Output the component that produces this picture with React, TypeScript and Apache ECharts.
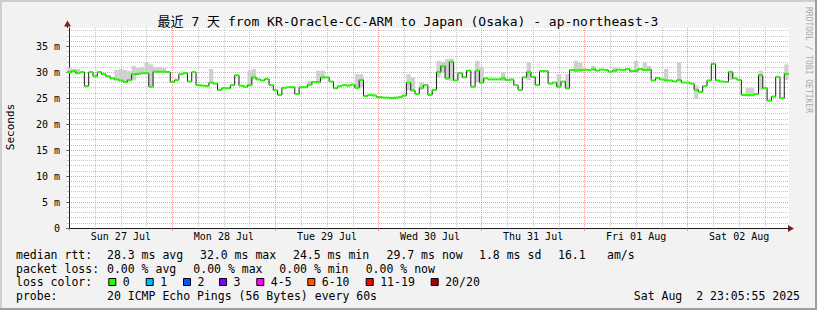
import React, { useEffect, useRef } from 'react';
import * as echarts from 'echarts';

const chartTitle = '最近 7 天 from KR-Oracle-CC-ARM to Japan (Osaka) - ap-northeast-3';
const yAxisName = 'Seconds';
const sideText = 'RRDTOOL / TOBI OETIKER';
const dayLabels = ['Sun 27 Jul', 'Mon 28 Jul', 'Tue 29 Jul', 'Wed 30 Jul', 'Thu 31 Jul', 'Fri 01 Aug', 'Sat 02 Aug'];
const yTickValues = [0, 5, 10, 15, 20, 25, 30, 35];

// hourly median rtt (ms), one array per day, hour 0 = 00:00
const rttJul27 = [30.0, 30.2, 29.8, 30.0, 27.3, 30.0, 29.2, 30.0, 29.6, 29.2, 28.8, 28.6, 28.4, 28.1, 28.5, 29.6, 29.7, 29.8, 29.8, 27.2, 30.1, 30.1, 30.1, 30.0];
const rttJul28 = [28.1, 28.5, 29.6, 29.8, 28.2, 30.0, 27.5, 27.4, 27.3, 28.0, 27.8, 26.6, 26.9, 26.9, 27.5, 29.4, 27.4, 27.2, 27.5, 29.0, 28.6, 28.4, 28.7, 27.5];
const rttJul29 = [26.5, 25.6, 27.0, 27.1, 27.1, 25.8, 27.1, 27.1, 27.6, 28.1, 28.1, 29.0, 29.0, 28.2, 26.9, 27.3, 27.5, 27.4, 27.6, 27.0, 28.5, 25.4, 25.6, 25.5];
const rttJul30 = [25.2, 25.1, 25.1, 25.0, 25.1, 25.2, 25.5, 28.0, 26.5, 25.8, 27.0, 27.5, 25.6, 26.6, 30.0, 31.2, 28.8, 32.0, 28.4, 29.8, 29.0, 30.3, 27.2, 30.3];
const rttJul31 = [28.0, 28.8, 28.6, 28.6, 28.6, 28.8, 28.5, 28.6, 27.5, 26.6, 29.0, 30.0, 29.1, 27.5, 30.2, 30.2, 27.8, 28.0, 27.2, 28.2, 26.9, 30.4, 30.3, 30.4];
const rttAug01 = [30.5, 30.4, 30.6, 30.3, 30.5, 30.4, 30.1, 30.3, 30.5, 30.4, 30.6, 30.2, 30.3, 30.6, 30.4, 30.5, 28.4, 28.9, 28.6, 28.4, 28.4, 28.2, 28.5, 28.0];
const rttAug02 = [28.0, 27.8, 26.6, 26.2, 27.3, 28.4, 31.6, 28.4, 28.2, 28.1, 30.0, 28.8, 28.5, 25.6, 25.6, 25.6, 25.8, 29.4, 26.9, 24.5, 25.3, 29.1, 25.0, 29.7];

// smoke bands: [hour index, low ms, high ms]
const smokeBands = [
  [0, 29.8, 30.9], [1, 29.8, 30.6], [2, 29.6, 30.6], [11, 28.4, 30.4], [12, 28.2, 30.6], [13, 28.0, 30.4],
  [14, 28.2, 30.2], [15, 28.4, 31.2], [16, 29.5, 30.8], [17, 29.6, 31.0], [18, 29.6, 31.9], [19, 27.2, 31.5],
  [20, 29.9, 30.9], [21, 29.9, 31.0], [22, 29.9, 30.8], [33, 27.8, 30.6], [42, 27.2, 30.3], [43, 28.6, 30.6],
  [56, 27.4, 28.3], [58, 27.8, 30.3], [59, 28.6, 30.3], [67, 26.8, 29.6], [68, 27.0, 29.6], [79, 26.5, 29.6],
  [80, 26.2, 29.0], [82, 26.6, 28.0], [86, 29.0, 32.2], [87, 30.0, 32.0], [88, 28.5, 32.5], [89, 28.3, 32.6],
  [95, 28.0, 32.2], [96, 27.8, 31.0], [101, 28.3, 30.0], [107, 28.5, 31.9], [114, 27.0, 29.6], [116, 26.8, 29.6],
  [118, 30.0, 32.2], [119, 30.0, 31.8], [122, 30.2, 31.2], [127, 30.0, 30.9], [132, 30.0, 32.2], [134, 30.2, 31.9],
  [135, 30.2, 31.2], [139, 28.2, 30.6], [142, 28.2, 31.9], [146, 24.8, 27.4], [154, 28.5, 30.3], [158, 25.3, 27.0],
  [159, 25.3, 27.0], [161, 26.5, 30.3], [167, 28.5, 31.5],
];

const lossColors = ['#26ff00', '#00b8ff', '#0059ff', '#7e00ff', '#ff00ff', '#ff5500', '#ff0000', '#a10000'];
const lossLabels = ['0', '1', '2', '3', '4-5', '6-10', '11-19', '20/20'];
const rttStats = ['28.3 ms avg', '32.0 ms max', '24.5 ms min', '29.7 ms now', '1.8 ms sd', '16.1', 'am/s'];
const lossStats = ['0.00 % avg', '0.00 % max', '0.00 % min', '0.00 % now'];
const rowTitles = ['median rtt:', 'packet loss:', 'loss color:', 'probe:'];
const probeText = '20 ICMP Echo Pings (56 Bytes) every 60s';
const stampText = 'Sat Aug  2 23:05:55 2025';

// layout
const FONT = '"DejaVu Sans Mono", "Noto Sans CJK SC", monospace';
const X_MIN = -0.55;
const X_MAX = 167.6;
const Y_MAX = 38.5;
const rowY = [254.5, 268.5, 282, 296];
const rttStatX = [107, 200, 293, 386.5, 479, 558, 607];
const lossStatX = [107, 193.3, 279.3, 365.7];
const lossBoxX = [108.3, 145.7, 183, 219, 256.3, 307.3, 365.7, 430.7];

const GRID_C = 'rgba(143,143,143,0.5)';
const MGRID_C = 'rgba(222,79,79,0.55)';

export default function App() {
  const ref = useRef<HTMLDivElement>(null);
  useEffect(() => {
    document.body.style.margin = '0';
    if (!ref.current) return;
    const chart = echarts.init(ref.current, null, { renderer: 'svg' });

    const rtt = [...rttJul27, ...rttJul28, ...rttJul29, ...rttJul30, ...rttJul31, ...rttAug01, ...rttAug02];
    const stepData = rtt.map((v, i) => [i - 0.5, v]);
    stepData.push([rtt.length - 0.5, rtt[rtt.length - 1]]);
    const greenData = rtt.map((v, i) => [i, v]);

    const midnights = dayLabels.map((_, d) => d * 24);
    const noons = dayLabels.map((_, d) => d * 24 + 12);
    const sixHours: number[] = [];
    dayLabels.forEach((_, d) => { [6, 12, 18].forEach((h) => sixHours.push(d * 24 + h)); });
    const minorY: number[] = [];
    for (let v = 1; v < Y_MAX; v++) if (v % 5 !== 0) minorY.push(v);

    const graphics: any[] = [
      { type: 'line', shape: { x1: 0, y1: 1, x2: 817, y2: 1 }, style: { stroke: '#cecece', lineWidth: 2 }, silent: true },
      { type: 'line', shape: { x1: 1, y1: 0, x2: 1, y2: 310 }, style: { stroke: '#cecece', lineWidth: 2 }, silent: true },
      { type: 'line', shape: { x1: 0, y1: 309, x2: 817, y2: 309 }, style: { stroke: '#9e9e9e', lineWidth: 2 }, silent: true },
      { type: 'line', shape: { x1: 816, y1: 0, x2: 816, y2: 310 }, style: { stroke: '#9e9e9e', lineWidth: 2 }, silent: true },
      { type: 'text', x: 408, y: 21, style: { text: chartTitle, font: `13px ${FONT}`, fill: '#000', align: 'center', verticalAlign: 'middle' } },
      { type: 'text', x: 10, y: 127, rotation: Math.PI / 2, style: { text: yAxisName, font: `11px ${FONT}`, fill: '#000', align: 'center', verticalAlign: 'middle' } },
      { type: 'text', x: 808, y: 60, rotation: -Math.PI / 2, style: { text: sideText, font: `8px ${FONT}`, fill: '#aaaaaa', align: 'center', verticalAlign: 'middle' } },
      // axis extensions + arrows
      { type: 'line', shape: { x1: 67.5, y1: 28, x2: 67.5, y2: 24 }, style: { stroke: '#1f1f1f', lineWidth: 1 } },
      { type: 'polygon', shape: { points: [[67.5, 20.5], [64, 26.5], [71, 26.5]] }, style: { fill: '#801f1f' } },
      { type: 'line', shape: { x1: 789, y1: 228.5, x2: 790, y2: 228.5 }, style: { stroke: '#1f1f1f', lineWidth: 1 } },
      { type: 'polygon', shape: { points: [[794, 228.5], [788, 225], [788, 232]] }, style: { fill: '#801f1f' } },
    ];
    rowTitles.forEach((t, r) => {
      graphics.push({ type: 'text', x: 16, y: rowY[r], style: { text: t, font: `11.5px ${FONT}`, fill: '#000', verticalAlign: 'middle' } });
    });
    rttStats.forEach((t, i) => {
      graphics.push({ type: 'text', x: rttStatX[i], y: rowY[0], style: { text: t, font: `11.5px ${FONT}`, fill: '#000', verticalAlign: 'middle' } });
    });
    lossStats.forEach((t, i) => {
      graphics.push({ type: 'text', x: lossStatX[i], y: rowY[1], style: { text: t, font: `11.5px ${FONT}`, fill: '#000', verticalAlign: 'middle' } });
    });
    lossLabels.forEach((t, i) => {
      graphics.push({ type: 'rect', shape: { x: lossBoxX[i] + 0.5, y: rowY[2] - 3.5, width: 7, height: 7 }, style: { fill: lossColors[i], stroke: '#000', lineWidth: 1 } });
      graphics.push({ type: 'text', x: lossBoxX[i] + 14.5, y: rowY[2], style: { text: t, font: `11.5px ${FONT}`, fill: '#000', verticalAlign: 'middle' } });
    });
    graphics.push({ type: 'text', x: 107, y: rowY[3], style: { text: probeText, font: `11.5px ${FONT}`, fill: '#000', verticalAlign: 'middle' } });
    graphics.push({ type: 'text', x: 800, y: rowY[3], style: { text: stampText, font: `11.5px ${FONT}`, fill: '#000', align: 'right', verticalAlign: 'middle' } });

    const option: any = {
      animation: false,
      backgroundColor: '#f2f2f2',
      textStyle: { fontFamily: FONT },
      grid: { left: 67, top: 28, width: 722, height: 200, containLabel: false, show: true, backgroundColor: '#ffffff', borderWidth: 0 },
      xAxis: [
        {
          type: 'value', min: X_MIN, max: X_MAX, position: 'bottom',
          axisLine: { show: false }, axisLabel: { show: false },
          axisTick: { show: true, customValues: sixHours, length: 2, lineStyle: { color: GRID_C } },
          splitLine: { show: true, lineStyle: { color: GRID_C, type: [1, 1], width: 1 } },
        },
        {
          type: 'value', min: X_MIN, max: X_MAX, position: 'bottom',
          axisLine: { show: true, lineStyle: { color: '#1f1f1f', width: 1 } },
          axisTick: { show: true, customValues: midnights, length: 3, lineStyle: { color: MGRID_C } },
          axisLabel: {
            show: true, customValues: noons, margin: 3, fontSize: 10, fontFamily: FONT, color: '#000',
            formatter: (v: number) => dayLabels[Math.round((v - 12) / 24)] ?? '',
          },
          splitLine: { show: true, lineStyle: { color: MGRID_C, type: [1, 1], width: 1 } },
        },
      ],
      yAxis: [
        {
          type: 'value', min: 0, max: Y_MAX, position: 'left',
          axisLine: { show: false }, axisLabel: { show: false },
          axisTick: { show: true, customValues: minorY, length: 2, lineStyle: { color: GRID_C } },
          splitLine: { show: true, lineStyle: { color: GRID_C, type: [1, 1], width: 1 } },
        },
        {
          type: 'value', min: 0, max: Y_MAX, position: 'left',
          axisLine: { show: true, lineStyle: { color: '#1f1f1f', width: 1 } },
          axisTick: { show: true, customValues: yTickValues, length: 3, lineStyle: { color: '#555' } },
          axisLabel: {
            show: true, customValues: yTickValues, margin: 7, fontSize: 10, fontFamily: FONT, color: '#000',
            formatter: (v: number) => (v === 0 ? '0' : `${v} m`),
          },
          splitLine: { show: true, lineStyle: { color: MGRID_C, type: [1, 1], width: 1 } },
        },
      ],
      graphic: graphics,
      series: [
        {
          type: 'custom', xAxisIndex: 1, yAxisIndex: 1, silent: true, z: 2,
          data: smokeBands,
          renderItem: (_p: any, api: any) => {
            const h = api.value(0), lo = api.value(1), hi = api.value(2);
            const a = api.coord([h - 0.5, hi]);
            const b = api.coord([h + 0.5, lo]);
            return { type: 'rect', shape: { x: a[0], y: a[1], width: b[0] - a[0], height: b[1] - a[1] }, style: { fill: '#cfcfcf' } };
          },
        },
        {
          type: 'line', xAxisIndex: 1, yAxisIndex: 1, step: 'end', data: stepData, symbol: 'none', silent: true, z: 3,
          lineStyle: { color: '#1e1e1e', width: 1 },
        },
        {
          type: 'custom', xAxisIndex: 1, yAxisIndex: 1, silent: true, z: 4,
          data: greenData,
          renderItem: (_p: any, api: any) => {
            const h = api.value(0), v = api.value(1);
            const a = api.coord([h - 0.5, v]);
            const b = api.coord([h + 0.5, v]);
            return { type: 'line', shape: { x1: a[0], y1: a[1], x2: b[0], y2: b[1] }, style: { stroke: lossColors[0], lineWidth: 2 } };
          },
        },
      ],
    };
    chart.setOption(option);
    return () => chart.dispose();
  }, []);
  return <div ref={ref} style={{ width: 817, height: 310 }} />;
}
